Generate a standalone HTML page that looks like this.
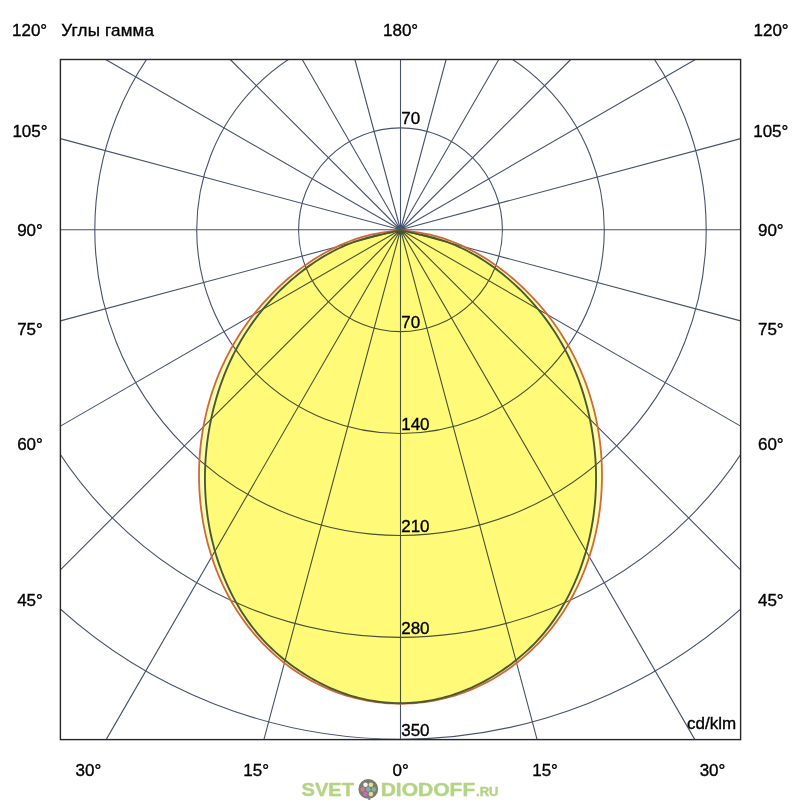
<!DOCTYPE html>
<html><head><meta charset="utf-8"><style>
html,body{margin:0;padding:0;background:#fff;}
svg{display:block;}
text{font-family:"Liberation Sans",sans-serif;}
</style></head><body>
<svg width="800" height="800" viewBox="0 0 800 800">
<defs><clipPath id="fr"><rect x="60.4" y="59.5" width="680.2" height="680.1"/></clipPath></defs>
<rect width="800" height="800" fill="#fff"/>
<g clip-path="url(#fr)" fill="none" stroke="#46526e" stroke-width="1.1">
<path d="M400.50,229.75L400.50,739.60M400.50,229.75L537.11,739.60M400.50,229.75L694.86,739.60M400.50,229.75L740.60,569.85M400.50,229.75L740.60,426.11M400.50,229.75L740.60,320.88M400.50,229.75L740.60,229.75M400.50,229.75L740.60,138.62M400.50,229.75L695.38,59.50M400.50,229.75L570.75,59.50M400.50,229.75L498.79,59.50M400.50,229.75L446.12,59.50M400.50,229.75L400.50,59.50M400.50,229.75L354.88,59.50M400.50,229.75L302.21,59.50M400.50,229.75L230.25,59.50M400.50,229.75L105.62,59.50M400.50,229.75L60.40,138.62M400.50,229.75L60.40,229.75M400.50,229.75L60.40,320.88M400.50,229.75L60.40,426.11M400.50,229.75L60.40,569.85M400.50,229.75L106.14,739.60M400.50,229.75L263.89,739.60"/>
<circle cx="400.50" cy="229.75" r="101.90"/><circle cx="400.50" cy="229.75" r="203.80"/><circle cx="400.50" cy="229.75" r="305.70"/><circle cx="400.50" cy="229.75" r="407.60"/><circle cx="400.50" cy="229.75" r="509.50"/>
</g>
<g>
<path d="M400.50,229.75L397.13,230.37L393.72,230.83L390.31,231.31L386.90,231.81L383.49,232.34L380.09,232.91L376.70,233.53L373.33,234.20L369.97,234.95L366.64,235.78L363.32,236.68L360.03,237.66L356.76,238.71L353.52,239.83L350.29,241.01L347.09,242.26L343.92,243.57L340.77,244.93L337.65,246.36L334.55,247.83L331.48,249.36L328.43,250.95L325.41,252.58L322.42,254.27L319.46,256.00L316.53,257.78L313.62,259.61L310.74,261.48L307.89,263.41L305.07,265.37L302.28,267.38L299.52,269.43L296.78,271.52L294.08,273.66L291.41,275.83L288.77,278.04L286.16,280.29L283.58,282.57L281.03,284.89L278.51,287.25L276.03,289.64L273.58,292.06L271.16,294.52L268.77,297.01L266.42,299.54L264.11,302.09L261.83,304.68L259.58,307.29L257.37,309.94L255.20,312.62L253.06,315.32L250.96,318.05L248.90,320.81L246.87,323.60L244.89,326.41L242.94,329.25L241.03,332.12L239.17,335.00L237.34,337.92L235.55,340.85L233.80,343.81L232.10,346.79L230.44,349.80L228.82,352.82L227.24,355.87L225.70,358.93L224.21,362.02L222.76,365.12L221.35,368.24L219.98,371.38L218.66,374.54L217.38,377.71L216.14,380.91L214.95,384.12L213.80,387.34L212.69,390.58L211.62,393.83L210.60,397.10L209.62,400.38L208.68,403.68L207.79,406.99L206.94,410.31L206.13,413.64L205.36,416.99L204.64,420.34L203.96,423.71L203.33,427.09L202.74,430.47L202.19,433.87L201.68,437.27L201.22,440.68L200.81,444.10L200.43,447.53L200.10,450.96L199.81,454.40L199.57,457.84L199.37,461.29L199.22,464.74L199.10,468.19L199.04,471.65L199.01,475.10L199.03,478.56L199.10,482.01L199.20,485.47L199.35,488.92L199.55,492.38L199.79,495.83L200.07,499.27L200.40,502.71L200.77,506.15L201.19,509.58L201.65,513.00L202.15,516.42L202.70,519.83L203.29,523.23L203.93,526.62L204.61,530.00L205.33,533.38L206.10,536.73L206.92,540.08L207.78,543.42L208.68,546.74L209.63,550.05L210.62,553.34L211.65,556.62L212.74,559.88L213.86,563.12L215.03,566.35L216.25,569.56L217.51,572.75L218.81,575.92L220.16,579.07L221.56,582.20L222.99,585.31L224.48,588.39L226.01,591.45L227.58,594.49L229.20,597.50L230.86,600.49L232.57,603.45L234.32,606.39L236.12,609.29L237.97,612.17L239.86,615.02L241.79,617.85L243.77,620.64L245.79,623.40L247.86,626.13L249.98,628.82L252.14,631.49L254.35,634.12L256.60,636.71L258.89,639.27L261.23,641.80L263.62,644.28L266.04,646.73L268.51,649.14L271.02,651.51L273.57,653.84L276.15,656.13L278.78,658.38L281.44,660.58L284.14,662.73L286.88,664.84L289.65,666.91L292.46,668.93L295.30,670.89L298.17,672.81L301.08,674.68L304.01,676.50L306.98,678.26L309.98,679.98L313.00,681.63L316.06,683.24L319.14,684.78L322.25,686.27L325.38,687.70L328.54,689.08L331.73,690.39L334.94,691.64L338.17,692.84L341.42,693.97L344.69,695.04L347.98,696.05L351.28,697.00L354.61,697.88L357.95,698.70L361.30,699.47L364.66,700.16L368.04,700.80L371.43,701.37L374.83,701.88L378.24,702.33L381.65,702.71L385.07,703.03L388.49,703.28L391.92,703.47L395.35,703.59L398.79,703.65L400.50,703.64L402.21,703.65L405.65,703.59L409.08,703.47L412.51,703.28L415.93,703.03L419.35,702.71L422.76,702.33L426.17,701.88L429.57,701.37L432.96,700.80L436.34,700.16L439.70,699.47L443.05,698.70L446.39,697.88L449.72,697.00L453.02,696.05L456.31,695.04L459.58,693.97L462.83,692.84L466.06,691.64L469.27,690.39L472.46,689.08L475.62,687.70L478.75,686.27L481.86,684.78L484.94,683.24L488.00,681.63L491.02,679.98L494.02,678.26L496.99,676.50L499.92,674.68L502.83,672.81L505.70,670.89L508.54,668.93L511.35,666.91L514.12,664.84L516.86,662.73L519.56,660.58L522.22,658.38L524.85,656.13L527.43,653.84L529.98,651.51L532.49,649.14L534.96,646.73L537.38,644.28L539.77,641.80L542.11,639.27L544.40,636.71L546.65,634.12L548.86,631.49L551.02,628.82L553.14,626.13L555.21,623.40L557.23,620.64L559.21,617.85L561.14,615.02L563.03,612.17L564.88,609.29L566.68,606.39L568.43,603.45L570.14,600.49L571.80,597.50L573.42,594.49L574.99,591.45L576.52,588.39L578.01,585.31L579.44,582.20L580.84,579.07L582.19,575.92L583.49,572.75L584.75,569.56L585.97,566.35L587.14,563.12L588.26,559.88L589.35,556.62L590.38,553.34L591.37,550.05L592.32,546.74L593.22,543.42L594.08,540.08L594.90,536.73L595.67,533.38L596.39,530.00L597.07,526.62L597.71,523.23L598.30,519.83L598.85,516.42L599.35,513.00L599.81,509.58L600.23,506.15L600.60,502.71L600.93,499.27L601.21,495.83L601.45,492.38L601.65,488.92L601.80,485.47L601.90,482.01L601.97,478.56L601.99,475.10L601.96,471.65L601.90,468.19L601.78,464.74L601.63,461.29L601.43,457.84L601.19,454.40L600.90,450.96L600.57,447.53L600.19,444.10L599.78,440.68L599.32,437.27L598.81,433.87L598.26,430.47L597.67,427.09L597.04,423.71L596.36,420.34L595.64,416.99L594.87,413.64L594.06,410.31L593.21,406.99L592.32,403.68L591.38,400.38L590.40,397.10L589.38,393.83L588.31,390.58L587.20,387.34L586.05,384.12L584.86,380.91L583.62,377.71L582.34,374.54L581.02,371.38L579.65,368.24L578.24,365.12L576.79,362.02L575.30,358.93L573.76,355.87L572.18,352.82L570.56,349.80L568.90,346.79L567.20,343.81L565.45,340.85L563.66,337.92L561.83,335.00L559.97,332.12L558.06,329.25L556.11,326.41L554.13,323.60L552.10,320.81L550.04,318.05L547.94,315.32L545.80,312.62L543.63,309.94L541.42,307.29L539.17,304.68L536.89,302.09L534.58,299.54L532.23,297.01L529.84,294.52L527.42,292.06L524.97,289.64L522.49,287.25L519.97,284.89L517.42,282.57L514.84,280.29L512.23,278.04L509.59,275.83L506.92,273.66L504.22,271.52L501.48,269.43L498.72,267.38L495.93,265.37L493.11,263.41L490.26,261.48L487.38,259.61L484.47,257.78L481.54,256.00L478.58,254.27L475.59,252.58L472.57,250.95L469.52,249.36L466.45,247.83L463.35,246.36L460.23,244.93L457.08,243.57L453.91,242.26L450.71,241.01L447.48,239.83L444.24,238.71L440.97,237.66L437.68,236.68L434.36,235.78L431.03,234.95L427.67,234.20L424.30,233.53L420.91,232.91L417.51,232.34L414.10,231.81L410.69,231.31L407.28,230.83L403.87,230.37L400.50,229.75Z" fill="#fffdb0" style="mix-blend-mode:multiply"/>
<path d="M400.50,229.75L397.30,230.85L394.02,231.69L390.73,232.46L387.42,233.19L384.10,233.89L380.78,234.59L377.46,235.29L374.15,236.03L370.85,236.81L367.57,237.65L364.32,238.57L361.08,239.56L357.87,240.61L354.68,241.72L351.52,242.90L348.38,244.15L345.27,245.45L342.17,246.82L339.11,248.24L336.07,249.72L333.05,251.25L330.07,252.84L327.10,254.48L324.17,256.18L321.26,257.92L318.39,259.72L315.54,261.56L312.71,263.45L309.92,265.38L307.16,267.36L304.43,269.38L301.72,271.44L299.05,273.55L296.41,275.69L293.80,277.87L291.22,280.09L288.68,282.34L286.16,284.63L283.68,286.95L281.24,289.30L278.82,291.69L276.44,294.10L274.10,296.55L271.79,299.02L269.52,301.53L267.28,304.07L265.08,306.64L262.91,309.23L260.78,311.86L258.69,314.51L256.63,317.19L254.61,319.90L252.63,322.64L250.69,325.40L248.79,328.19L246.92,331.01L245.10,333.85L243.31,336.72L241.57,339.61L239.86,342.53L238.20,345.47L236.57,348.43L234.99,351.42L233.45,354.44L231.95,357.47L230.50,360.53L229.08,363.61L227.71,366.70L226.37,369.82L225.08,372.96L223.83,376.11L222.62,379.29L221.45,382.47L220.32,385.68L219.23,388.90L218.19,392.13L217.18,395.38L216.21,398.64L215.29,401.92L214.40,405.20L213.55,408.50L212.75,411.81L211.98,415.12L211.25,418.45L210.57,421.78L209.92,425.12L209.31,428.47L208.74,431.82L208.21,435.18L207.72,438.54L207.27,441.90L206.86,445.27L206.49,448.65L206.16,452.02L205.86,455.40L205.61,458.77L205.40,462.15L205.22,465.53L205.09,468.91L205.00,472.29L204.95,475.67L204.94,479.05L204.97,482.43L205.04,485.81L205.15,489.18L205.30,492.55L205.50,495.92L205.73,499.29L206.01,502.65L206.33,506.01L206.70,509.36L207.10,512.71L207.55,516.06L208.04,519.40L208.57,522.73L209.15,526.06L209.77,529.38L210.43,532.69L211.13,536.00L211.88,539.29L212.67,542.58L213.51,545.86L214.39,549.14L215.32,552.40L216.29,555.65L217.30,558.89L218.36,562.12L219.46,565.34L220.61,568.55L221.80,571.74L223.04,574.92L224.32,578.08L225.65,581.22L227.02,584.34L228.44,587.45L229.90,590.53L231.41,593.59L232.96,596.62L234.56,599.63L236.21,602.61L237.90,605.56L239.63,608.49L241.41,611.38L243.24,614.25L245.11,617.08L247.02,619.87L248.98,622.63L250.99,625.36L253.04,628.04L255.14,630.69L257.29,633.30L259.48,635.86L261.71,638.38L264.00,640.86L266.32,643.30L268.69,645.70L271.10,648.05L273.55,650.37L276.04,652.64L278.57,654.87L281.14,657.06L283.74,659.21L286.39,661.32L289.07,663.39L291.78,665.41L294.53,667.40L297.31,669.35L300.12,671.26L302.97,673.12L305.85,674.95L308.75,676.73L311.69,678.47L314.65,680.16L317.64,681.79L320.66,683.38L323.70,684.91L326.77,686.39L329.86,687.81L332.98,689.17L336.12,690.47L339.28,691.71L342.46,692.89L345.66,694.00L348.88,695.06L352.11,696.05L355.37,696.98L358.64,697.85L361.92,698.65L365.22,699.39L368.53,700.07L371.85,700.68L375.19,701.23L378.53,701.71L381.89,702.13L385.25,702.48L388.62,702.76L392.00,702.98L395.38,703.13L398.77,703.21L400.50,703.22L402.23,703.21L405.62,703.13L409.00,702.98L412.38,702.76L415.75,702.48L419.11,702.13L422.47,701.71L425.81,701.23L429.15,700.68L432.47,700.07L435.78,699.39L439.08,698.65L442.36,697.85L445.63,696.98L448.89,696.05L452.12,695.06L455.34,694.00L458.54,692.89L461.72,691.71L464.88,690.47L468.02,689.17L471.14,687.81L474.23,686.39L477.30,684.91L480.34,683.38L483.36,681.79L486.35,680.16L489.31,678.47L492.25,676.73L495.15,674.95L498.03,673.12L500.88,671.26L503.69,669.35L506.47,667.40L509.22,665.41L511.93,663.39L514.61,661.32L517.26,659.21L519.86,657.06L522.43,654.87L524.96,652.64L527.45,650.37L529.90,648.05L532.31,645.70L534.68,643.30L537.00,640.86L539.29,638.38L541.52,635.86L543.71,633.30L545.86,630.69L547.96,628.04L550.01,625.36L552.02,622.63L553.98,619.87L555.89,617.08L557.76,614.25L559.59,611.38L561.37,608.49L563.10,605.56L564.79,602.61L566.44,599.63L568.04,596.62L569.59,593.59L571.10,590.53L572.56,587.45L573.98,584.34L575.35,581.22L576.68,578.08L577.96,574.92L579.20,571.74L580.39,568.55L581.54,565.34L582.64,562.12L583.70,558.89L584.71,555.65L585.68,552.40L586.61,549.14L587.49,545.86L588.33,542.58L589.12,539.29L589.87,536.00L590.57,532.69L591.23,529.38L591.85,526.06L592.43,522.73L592.96,519.40L593.45,516.06L593.90,512.71L594.30,509.36L594.67,506.01L594.99,502.65L595.27,499.29L595.50,495.92L595.70,492.55L595.85,489.18L595.96,485.81L596.03,482.43L596.06,479.05L596.05,475.67L596.00,472.29L595.91,468.91L595.78,465.53L595.60,462.15L595.39,458.77L595.14,455.40L594.84,452.02L594.51,448.65L594.14,445.27L593.73,441.90L593.28,438.54L592.79,435.18L592.26,431.82L591.69,428.47L591.08,425.12L590.43,421.78L589.75,418.45L589.02,415.12L588.25,411.81L587.45,408.50L586.60,405.20L585.71,401.92L584.79,398.64L583.82,395.38L582.81,392.13L581.77,388.90L580.68,385.68L579.55,382.47L578.38,379.29L577.17,376.11L575.92,372.96L574.63,369.82L573.29,366.70L571.92,363.61L570.50,360.53L569.05,357.47L567.55,354.44L566.01,351.42L564.43,348.43L562.80,345.47L561.14,342.53L559.43,339.61L557.69,336.72L555.90,333.85L554.08,331.01L552.21,328.19L550.31,325.40L548.37,322.64L546.39,319.90L544.37,317.19L542.31,314.51L540.22,311.86L538.09,309.23L535.92,306.64L533.72,304.07L531.48,301.53L529.21,299.02L526.90,296.55L524.56,294.10L522.18,291.69L519.76,289.30L517.32,286.95L514.84,284.63L512.32,282.34L509.78,280.09L507.20,277.87L504.59,275.69L501.95,273.55L499.28,271.44L496.57,269.38L493.84,267.36L491.08,265.38L488.29,263.45L485.46,261.56L482.61,259.72L479.74,257.92L476.83,256.18L473.90,254.48L470.93,252.84L467.95,251.25L464.93,249.72L461.89,248.24L458.83,246.82L455.73,245.45L452.62,244.15L449.48,242.90L446.32,241.72L443.13,240.61L439.92,239.56L436.68,238.57L433.43,237.65L430.15,236.81L426.85,236.03L423.54,235.29L420.22,234.59L416.90,233.89L413.58,233.19L410.27,232.46L406.98,231.69L403.70,230.85L400.50,229.75Z" fill="#fffdb0" style="mix-blend-mode:multiply"/>
</g>
<path d="M400.50,229.75L397.13,230.37L393.72,230.83L390.31,231.31L386.90,231.81L383.49,232.34L380.09,232.91L376.70,233.53L373.33,234.20L369.97,234.95L366.64,235.78L363.32,236.68L360.03,237.66L356.76,238.71L353.52,239.83L350.29,241.01L347.09,242.26L343.92,243.57L340.77,244.93L337.65,246.36L334.55,247.83L331.48,249.36L328.43,250.95L325.41,252.58L322.42,254.27L319.46,256.00L316.53,257.78L313.62,259.61L310.74,261.48L307.89,263.41L305.07,265.37L302.28,267.38L299.52,269.43L296.78,271.52L294.08,273.66L291.41,275.83L288.77,278.04L286.16,280.29L283.58,282.57L281.03,284.89L278.51,287.25L276.03,289.64L273.58,292.06L271.16,294.52L268.77,297.01L266.42,299.54L264.11,302.09L261.83,304.68L259.58,307.29L257.37,309.94L255.20,312.62L253.06,315.32L250.96,318.05L248.90,320.81L246.87,323.60L244.89,326.41L242.94,329.25L241.03,332.12L239.17,335.00L237.34,337.92L235.55,340.85L233.80,343.81L232.10,346.79L230.44,349.80L228.82,352.82L227.24,355.87L225.70,358.93L224.21,362.02L222.76,365.12L221.35,368.24L219.98,371.38L218.66,374.54L217.38,377.71L216.14,380.91L214.95,384.12L213.80,387.34L212.69,390.58L211.62,393.83L210.60,397.10L209.62,400.38L208.68,403.68L207.79,406.99L206.94,410.31L206.13,413.64L205.36,416.99L204.64,420.34L203.96,423.71L203.33,427.09L202.74,430.47L202.19,433.87L201.68,437.27L201.22,440.68L200.81,444.10L200.43,447.53L200.10,450.96L199.81,454.40L199.57,457.84L199.37,461.29L199.22,464.74L199.10,468.19L199.04,471.65L199.01,475.10L199.03,478.56L199.10,482.01L199.20,485.47L199.35,488.92L199.55,492.38L199.79,495.83L200.07,499.27L200.40,502.71L200.77,506.15L201.19,509.58L201.65,513.00L202.15,516.42L202.70,519.83L203.29,523.23L203.93,526.62L204.61,530.00L205.33,533.38L206.10,536.73L206.92,540.08L207.78,543.42L208.68,546.74L209.63,550.05L210.62,553.34L211.65,556.62L212.74,559.88L213.86,563.12L215.03,566.35L216.25,569.56L217.51,572.75L218.81,575.92L220.16,579.07L221.56,582.20L222.99,585.31L224.48,588.39L226.01,591.45L227.58,594.49L229.20,597.50L230.86,600.49L232.57,603.45L234.32,606.39L236.12,609.29L237.97,612.17L239.86,615.02L241.79,617.85L243.77,620.64L245.79,623.40L247.86,626.13L249.98,628.82L252.14,631.49L254.35,634.12L256.60,636.71L258.89,639.27L261.23,641.80L263.62,644.28L266.04,646.73L268.51,649.14L271.02,651.51L273.57,653.84L276.15,656.13L278.78,658.38L281.44,660.58L284.14,662.73L286.88,664.84L289.65,666.91L292.46,668.93L295.30,670.89L298.17,672.81L301.08,674.68L304.01,676.50L306.98,678.26L309.98,679.98L313.00,681.63L316.06,683.24L319.14,684.78L322.25,686.27L325.38,687.70L328.54,689.08L331.73,690.39L334.94,691.64L338.17,692.84L341.42,693.97L344.69,695.04L347.98,696.05L351.28,697.00L354.61,697.88L357.95,698.70L361.30,699.47L364.66,700.16L368.04,700.80L371.43,701.37L374.83,701.88L378.24,702.33L381.65,702.71L385.07,703.03L388.49,703.28L391.92,703.47L395.35,703.59L398.79,703.65L400.50,703.64L402.21,703.65L405.65,703.59L409.08,703.47L412.51,703.28L415.93,703.03L419.35,702.71L422.76,702.33L426.17,701.88L429.57,701.37L432.96,700.80L436.34,700.16L439.70,699.47L443.05,698.70L446.39,697.88L449.72,697.00L453.02,696.05L456.31,695.04L459.58,693.97L462.83,692.84L466.06,691.64L469.27,690.39L472.46,689.08L475.62,687.70L478.75,686.27L481.86,684.78L484.94,683.24L488.00,681.63L491.02,679.98L494.02,678.26L496.99,676.50L499.92,674.68L502.83,672.81L505.70,670.89L508.54,668.93L511.35,666.91L514.12,664.84L516.86,662.73L519.56,660.58L522.22,658.38L524.85,656.13L527.43,653.84L529.98,651.51L532.49,649.14L534.96,646.73L537.38,644.28L539.77,641.80L542.11,639.27L544.40,636.71L546.65,634.12L548.86,631.49L551.02,628.82L553.14,626.13L555.21,623.40L557.23,620.64L559.21,617.85L561.14,615.02L563.03,612.17L564.88,609.29L566.68,606.39L568.43,603.45L570.14,600.49L571.80,597.50L573.42,594.49L574.99,591.45L576.52,588.39L578.01,585.31L579.44,582.20L580.84,579.07L582.19,575.92L583.49,572.75L584.75,569.56L585.97,566.35L587.14,563.12L588.26,559.88L589.35,556.62L590.38,553.34L591.37,550.05L592.32,546.74L593.22,543.42L594.08,540.08L594.90,536.73L595.67,533.38L596.39,530.00L597.07,526.62L597.71,523.23L598.30,519.83L598.85,516.42L599.35,513.00L599.81,509.58L600.23,506.15L600.60,502.71L600.93,499.27L601.21,495.83L601.45,492.38L601.65,488.92L601.80,485.47L601.90,482.01L601.97,478.56L601.99,475.10L601.96,471.65L601.90,468.19L601.78,464.74L601.63,461.29L601.43,457.84L601.19,454.40L600.90,450.96L600.57,447.53L600.19,444.10L599.78,440.68L599.32,437.27L598.81,433.87L598.26,430.47L597.67,427.09L597.04,423.71L596.36,420.34L595.64,416.99L594.87,413.64L594.06,410.31L593.21,406.99L592.32,403.68L591.38,400.38L590.40,397.10L589.38,393.83L588.31,390.58L587.20,387.34L586.05,384.12L584.86,380.91L583.62,377.71L582.34,374.54L581.02,371.38L579.65,368.24L578.24,365.12L576.79,362.02L575.30,358.93L573.76,355.87L572.18,352.82L570.56,349.80L568.90,346.79L567.20,343.81L565.45,340.85L563.66,337.92L561.83,335.00L559.97,332.12L558.06,329.25L556.11,326.41L554.13,323.60L552.10,320.81L550.04,318.05L547.94,315.32L545.80,312.62L543.63,309.94L541.42,307.29L539.17,304.68L536.89,302.09L534.58,299.54L532.23,297.01L529.84,294.52L527.42,292.06L524.97,289.64L522.49,287.25L519.97,284.89L517.42,282.57L514.84,280.29L512.23,278.04L509.59,275.83L506.92,273.66L504.22,271.52L501.48,269.43L498.72,267.38L495.93,265.37L493.11,263.41L490.26,261.48L487.38,259.61L484.47,257.78L481.54,256.00L478.58,254.27L475.59,252.58L472.57,250.95L469.52,249.36L466.45,247.83L463.35,246.36L460.23,244.93L457.08,243.57L453.91,242.26L450.71,241.01L447.48,239.83L444.24,238.71L440.97,237.66L437.68,236.68L434.36,235.78L431.03,234.95L427.67,234.20L424.30,233.53L420.91,232.91L417.51,232.34L414.10,231.81L410.69,231.31L407.28,230.83L403.87,230.37L400.50,229.75Z" fill="none" stroke="#d0683a" stroke-width="1.8"/>
<path d="M400.50,229.75L397.30,230.85L394.02,231.69L390.73,232.46L387.42,233.19L384.10,233.89L380.78,234.59L377.46,235.29L374.15,236.03L370.85,236.81L367.57,237.65L364.32,238.57L361.08,239.56L357.87,240.61L354.68,241.72L351.52,242.90L348.38,244.15L345.27,245.45L342.17,246.82L339.11,248.24L336.07,249.72L333.05,251.25L330.07,252.84L327.10,254.48L324.17,256.18L321.26,257.92L318.39,259.72L315.54,261.56L312.71,263.45L309.92,265.38L307.16,267.36L304.43,269.38L301.72,271.44L299.05,273.55L296.41,275.69L293.80,277.87L291.22,280.09L288.68,282.34L286.16,284.63L283.68,286.95L281.24,289.30L278.82,291.69L276.44,294.10L274.10,296.55L271.79,299.02L269.52,301.53L267.28,304.07L265.08,306.64L262.91,309.23L260.78,311.86L258.69,314.51L256.63,317.19L254.61,319.90L252.63,322.64L250.69,325.40L248.79,328.19L246.92,331.01L245.10,333.85L243.31,336.72L241.57,339.61L239.86,342.53L238.20,345.47L236.57,348.43L234.99,351.42L233.45,354.44L231.95,357.47L230.50,360.53L229.08,363.61L227.71,366.70L226.37,369.82L225.08,372.96L223.83,376.11L222.62,379.29L221.45,382.47L220.32,385.68L219.23,388.90L218.19,392.13L217.18,395.38L216.21,398.64L215.29,401.92L214.40,405.20L213.55,408.50L212.75,411.81L211.98,415.12L211.25,418.45L210.57,421.78L209.92,425.12L209.31,428.47L208.74,431.82L208.21,435.18L207.72,438.54L207.27,441.90L206.86,445.27L206.49,448.65L206.16,452.02L205.86,455.40L205.61,458.77L205.40,462.15L205.22,465.53L205.09,468.91L205.00,472.29L204.95,475.67L204.94,479.05L204.97,482.43L205.04,485.81L205.15,489.18L205.30,492.55L205.50,495.92L205.73,499.29L206.01,502.65L206.33,506.01L206.70,509.36L207.10,512.71L207.55,516.06L208.04,519.40L208.57,522.73L209.15,526.06L209.77,529.38L210.43,532.69L211.13,536.00L211.88,539.29L212.67,542.58L213.51,545.86L214.39,549.14L215.32,552.40L216.29,555.65L217.30,558.89L218.36,562.12L219.46,565.34L220.61,568.55L221.80,571.74L223.04,574.92L224.32,578.08L225.65,581.22L227.02,584.34L228.44,587.45L229.90,590.53L231.41,593.59L232.96,596.62L234.56,599.63L236.21,602.61L237.90,605.56L239.63,608.49L241.41,611.38L243.24,614.25L245.11,617.08L247.02,619.87L248.98,622.63L250.99,625.36L253.04,628.04L255.14,630.69L257.29,633.30L259.48,635.86L261.71,638.38L264.00,640.86L266.32,643.30L268.69,645.70L271.10,648.05L273.55,650.37L276.04,652.64L278.57,654.87L281.14,657.06L283.74,659.21L286.39,661.32L289.07,663.39L291.78,665.41L294.53,667.40L297.31,669.35L300.12,671.26L302.97,673.12L305.85,674.95L308.75,676.73L311.69,678.47L314.65,680.16L317.64,681.79L320.66,683.38L323.70,684.91L326.77,686.39L329.86,687.81L332.98,689.17L336.12,690.47L339.28,691.71L342.46,692.89L345.66,694.00L348.88,695.06L352.11,696.05L355.37,696.98L358.64,697.85L361.92,698.65L365.22,699.39L368.53,700.07L371.85,700.68L375.19,701.23L378.53,701.71L381.89,702.13L385.25,702.48L388.62,702.76L392.00,702.98L395.38,703.13L398.77,703.21L400.50,703.22L402.23,703.21L405.62,703.13L409.00,702.98L412.38,702.76L415.75,702.48L419.11,702.13L422.47,701.71L425.81,701.23L429.15,700.68L432.47,700.07L435.78,699.39L439.08,698.65L442.36,697.85L445.63,696.98L448.89,696.05L452.12,695.06L455.34,694.00L458.54,692.89L461.72,691.71L464.88,690.47L468.02,689.17L471.14,687.81L474.23,686.39L477.30,684.91L480.34,683.38L483.36,681.79L486.35,680.16L489.31,678.47L492.25,676.73L495.15,674.95L498.03,673.12L500.88,671.26L503.69,669.35L506.47,667.40L509.22,665.41L511.93,663.39L514.61,661.32L517.26,659.21L519.86,657.06L522.43,654.87L524.96,652.64L527.45,650.37L529.90,648.05L532.31,645.70L534.68,643.30L537.00,640.86L539.29,638.38L541.52,635.86L543.71,633.30L545.86,630.69L547.96,628.04L550.01,625.36L552.02,622.63L553.98,619.87L555.89,617.08L557.76,614.25L559.59,611.38L561.37,608.49L563.10,605.56L564.79,602.61L566.44,599.63L568.04,596.62L569.59,593.59L571.10,590.53L572.56,587.45L573.98,584.34L575.35,581.22L576.68,578.08L577.96,574.92L579.20,571.74L580.39,568.55L581.54,565.34L582.64,562.12L583.70,558.89L584.71,555.65L585.68,552.40L586.61,549.14L587.49,545.86L588.33,542.58L589.12,539.29L589.87,536.00L590.57,532.69L591.23,529.38L591.85,526.06L592.43,522.73L592.96,519.40L593.45,516.06L593.90,512.71L594.30,509.36L594.67,506.01L594.99,502.65L595.27,499.29L595.50,495.92L595.70,492.55L595.85,489.18L595.96,485.81L596.03,482.43L596.06,479.05L596.05,475.67L596.00,472.29L595.91,468.91L595.78,465.53L595.60,462.15L595.39,458.77L595.14,455.40L594.84,452.02L594.51,448.65L594.14,445.27L593.73,441.90L593.28,438.54L592.79,435.18L592.26,431.82L591.69,428.47L591.08,425.12L590.43,421.78L589.75,418.45L589.02,415.12L588.25,411.81L587.45,408.50L586.60,405.20L585.71,401.92L584.79,398.64L583.82,395.38L582.81,392.13L581.77,388.90L580.68,385.68L579.55,382.47L578.38,379.29L577.17,376.11L575.92,372.96L574.63,369.82L573.29,366.70L571.92,363.61L570.50,360.53L569.05,357.47L567.55,354.44L566.01,351.42L564.43,348.43L562.80,345.47L561.14,342.53L559.43,339.61L557.69,336.72L555.90,333.85L554.08,331.01L552.21,328.19L550.31,325.40L548.37,322.64L546.39,319.90L544.37,317.19L542.31,314.51L540.22,311.86L538.09,309.23L535.92,306.64L533.72,304.07L531.48,301.53L529.21,299.02L526.90,296.55L524.56,294.10L522.18,291.69L519.76,289.30L517.32,286.95L514.84,284.63L512.32,282.34L509.78,280.09L507.20,277.87L504.59,275.69L501.95,273.55L499.28,271.44L496.57,269.38L493.84,267.36L491.08,265.38L488.29,263.45L485.46,261.56L482.61,259.72L479.74,257.92L476.83,256.18L473.90,254.48L470.93,252.84L467.95,251.25L464.93,249.72L461.89,248.24L458.83,246.82L455.73,245.45L452.62,244.15L449.48,242.90L446.32,241.72L443.13,240.61L439.92,239.56L436.68,238.57L433.43,237.65L430.15,236.81L426.85,236.03L423.54,235.29L420.22,234.59L416.90,233.89L413.58,233.19L410.27,232.46L406.98,231.69L403.70,230.85L400.50,229.75Z" fill="none" stroke="#4a5934" stroke-width="1.9"/>
<rect x="60.4" y="59.5" width="680.2" height="680.1" fill="none" stroke="#262626" stroke-width="1.4"/>
<text x="12.00" y="36.00" font-size="17" text-anchor="start" fill="#000" stroke="#000" stroke-width="0.35" letter-spacing="0">120°</text><text x="61.25" y="36.00" font-size="17" text-anchor="start" fill="#000" stroke="#000" stroke-width="0.35" letter-spacing="0.2">Углы гамма</text><text x="383.00" y="36.00" font-size="17" text-anchor="start" fill="#000" stroke="#000" stroke-width="0.35" letter-spacing="0">180°</text><text x="753.50" y="36.00" font-size="17" text-anchor="start" fill="#000" stroke="#000" stroke-width="0.35" letter-spacing="0">120°</text><text x="30.00" y="137.00" font-size="17" text-anchor="middle" fill="#000" stroke="#000" stroke-width="0.35" letter-spacing="0">105°</text><text x="770.80" y="137.00" font-size="17" text-anchor="middle" fill="#000" stroke="#000" stroke-width="0.35" letter-spacing="0">105°</text><text x="30.00" y="236.00" font-size="17" text-anchor="middle" fill="#000" stroke="#000" stroke-width="0.35" letter-spacing="0">90°</text><text x="770.80" y="236.00" font-size="17" text-anchor="middle" fill="#000" stroke="#000" stroke-width="0.35" letter-spacing="0">90°</text><text x="30.00" y="335.00" font-size="17" text-anchor="middle" fill="#000" stroke="#000" stroke-width="0.35" letter-spacing="0">75°</text><text x="770.80" y="335.00" font-size="17" text-anchor="middle" fill="#000" stroke="#000" stroke-width="0.35" letter-spacing="0">75°</text><text x="30.00" y="449.50" font-size="17" text-anchor="middle" fill="#000" stroke="#000" stroke-width="0.35" letter-spacing="0">60°</text><text x="770.80" y="449.50" font-size="17" text-anchor="middle" fill="#000" stroke="#000" stroke-width="0.35" letter-spacing="0">60°</text><text x="30.00" y="606.00" font-size="17" text-anchor="middle" fill="#000" stroke="#000" stroke-width="0.35" letter-spacing="0">45°</text><text x="770.80" y="606.00" font-size="17" text-anchor="middle" fill="#000" stroke="#000" stroke-width="0.35" letter-spacing="0">45°</text><text x="88.40" y="776.00" font-size="17" text-anchor="middle" fill="#000" stroke="#000" stroke-width="0.35" letter-spacing="0">30°</text><text x="243.25" y="776.00" font-size="17" text-anchor="start" fill="#000" stroke="#000" stroke-width="0.35" letter-spacing="0">15°</text><text x="392.50" y="776.00" font-size="17" text-anchor="start" fill="#000" stroke="#000" stroke-width="0.35" letter-spacing="0">0°</text><text x="532.20" y="776.00" font-size="17" text-anchor="start" fill="#000" stroke="#000" stroke-width="0.35" letter-spacing="0">15°</text><text x="712.50" y="776.00" font-size="17" text-anchor="middle" fill="#000" stroke="#000" stroke-width="0.35" letter-spacing="0">30°</text><text x="687.10" y="729.00" font-size="17" text-anchor="start" fill="#000" stroke="#000" stroke-width="0.35" letter-spacing="0">cd/klm</text><text x="401.20" y="124.00" font-size="17" text-anchor="start" fill="#000" stroke="#000" stroke-width="0.35" letter-spacing="0">70</text><text x="401.20" y="328.00" font-size="17" text-anchor="start" fill="#000" stroke="#000" stroke-width="0.35" letter-spacing="0">70</text><text x="401.20" y="430.00" font-size="17" text-anchor="start" fill="#000" stroke="#000" stroke-width="0.35" letter-spacing="0">140</text><text x="401.20" y="532.00" font-size="17" text-anchor="start" fill="#000" stroke="#000" stroke-width="0.35" letter-spacing="0">210</text><text x="401.20" y="633.50" font-size="17" text-anchor="start" fill="#000" stroke="#000" stroke-width="0.35" letter-spacing="0">280</text><text x="401.20" y="736.00" font-size="17" text-anchor="start" fill="#000" stroke="#000" stroke-width="0.35" letter-spacing="0">350</text>
<g fill="#b3d583" stroke="#b3d583" stroke-width="0.4" stroke-linejoin="round" font-weight="bold" font-family="Liberation Sans, sans-serif">
<text x="301.5" y="795.6" font-size="17.5" textLength="52.5" lengthAdjust="spacingAndGlyphs">SVET</text>
<text x="380.7" y="795.6" font-size="17.5" textLength="94.6" lengthAdjust="spacingAndGlyphs">DIODOFF</text>
<text x="476" y="795.6" font-size="12.5" textLength="22.5" lengthAdjust="spacingAndGlyphs">.RU</text>
</g>
<g>
<circle cx="368.3" cy="788.9" r="9.9" fill="#7c7a74"/>
<rect x="368.2" y="797.5" width="2.2" height="2.5" fill="#8a8490"/>
<circle cx="365.5" cy="784.7" r="2.3" fill="#f6f6f4"/>
<circle cx="370.9" cy="784.7" r="2.3" fill="#e4df8c"/>
<circle cx="362.7" cy="789.4" r="2.3" fill="#d07a86"/>
<circle cx="368.3" cy="789.4" r="2.3" fill="#78b0c0"/>
<circle cx="373.8" cy="789.4" r="2.3" fill="#7fb592"/>
<circle cx="365.4" cy="794.1" r="2.3" fill="#c86aae"/>
<circle cx="370.9" cy="794.1" r="2.3" fill="#e0db8a"/>
</g>
</svg>
</body></html>
